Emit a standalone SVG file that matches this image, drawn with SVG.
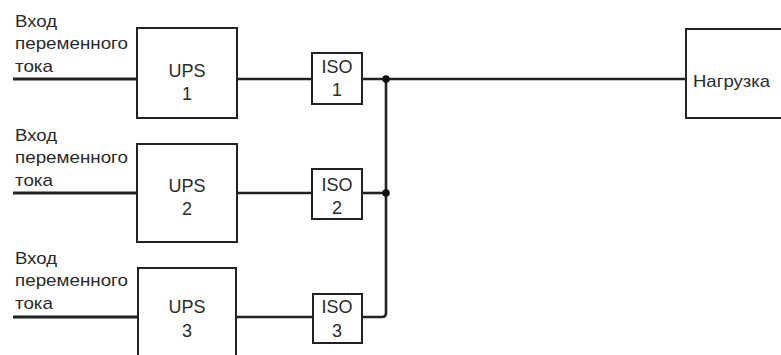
<svg xmlns="http://www.w3.org/2000/svg" width="781" height="355" viewBox="0 0 781 355">
<style>
.box{fill:#fff;stroke:#222;stroke-width:2}
.wire{fill:none;stroke:#222;stroke-width:2.6}
.in{fill:none;stroke:#222;stroke-width:3}
.lbl{font-family:"Liberation Sans",Arial,sans-serif;font-size:17px;fill:#2a2a2a}
.big{font-family:"Liberation Sans",Arial,sans-serif;font-size:18px;fill:#2a2a2a;text-anchor:middle}
</style>
<rect width="781" height="355" fill="#fff"/>
<g id="connectors">
<line class="in" x1="13" y1="79" x2="137" y2="79"/>
<line class="in" x1="13" y1="193" x2="137" y2="193"/>
<line class="in" x1="13" y1="317" x2="138" y2="317"/>
<line class="wire" x1="237" y1="79" x2="312" y2="79"/>
<line class="wire" x1="237" y1="193" x2="312" y2="193"/>
<line class="wire" x1="236" y1="317" x2="313" y2="317"/>
<line class="wire" x1="362" y1="79" x2="686" y2="79"/>
<line class="wire" x1="362" y1="193" x2="386" y2="193"/>
<path class="wire" d="M362,317 H382 Q386,317 386,313 V79"/>
<circle cx="386" cy="79" r="3.8" fill="#111"/>
<circle cx="386" cy="193" r="3.8" fill="#111"/>
</g>
<g id="input1">
<text class="lbl" x="15" y="27" textLength="42" lengthAdjust="spacingAndGlyphs">Вход</text>
<text class="lbl" x="15" y="49" textLength="113" lengthAdjust="spacingAndGlyphs">переменного</text>
<text class="lbl" x="15" y="72" textLength="38" lengthAdjust="spacingAndGlyphs">тока</text>
</g>
<g id="input2">
<text class="lbl" x="15" y="141" textLength="42" lengthAdjust="spacingAndGlyphs">Вход</text>
<text class="lbl" x="15" y="163" textLength="113" lengthAdjust="spacingAndGlyphs">переменного</text>
<text class="lbl" x="15" y="186" textLength="38" lengthAdjust="spacingAndGlyphs">тока</text>
</g>
<g id="input3">
<text class="lbl" x="15" y="264" textLength="42" lengthAdjust="spacingAndGlyphs">Вход</text>
<text class="lbl" x="15" y="286" textLength="113" lengthAdjust="spacingAndGlyphs">переменного</text>
<text class="lbl" x="15" y="309" textLength="38" lengthAdjust="spacingAndGlyphs">тока</text>
</g>
<g id="ups1">
<rect class="box" x="137" y="28" width="100" height="90"/>
<text class="big" x="187" y="77">UPS</text>
<text class="big" x="187" y="100">1</text>
</g>
<g id="ups2">
<rect class="box" x="137" y="144" width="100" height="98"/>
<text class="big" x="187" y="192">UPS</text>
<text class="big" x="187" y="215">2</text>
</g>
<g id="ups3">
<rect class="box" x="138" y="268" width="98" height="100"/>
<text class="big" x="187" y="313">UPS</text>
<text class="big" x="187" y="337">3</text>
</g>
<g id="iso1">
<rect class="box" x="312" y="53" width="50" height="51"/>
<text class="big" x="337" y="73">ISO</text>
<text class="big" x="337" y="96">1</text>
</g>
<g id="iso2">
<rect class="box" x="312" y="169" width="50" height="50"/>
<text class="big" x="337" y="191">ISO</text>
<text class="big" x="337" y="214">2</text>
</g>
<g id="iso3">
<rect class="box" x="313" y="294" width="49" height="49"/>
<text class="big" x="337" y="313">ISO</text>
<text class="big" x="337" y="337">3</text>
</g>
<g id="load">
<rect class="box" x="686" y="29" width="110" height="89"/>
<text class="lbl" x="693" y="87" textLength="77" lengthAdjust="spacingAndGlyphs">Нагрузка</text>
</g>
</svg>
